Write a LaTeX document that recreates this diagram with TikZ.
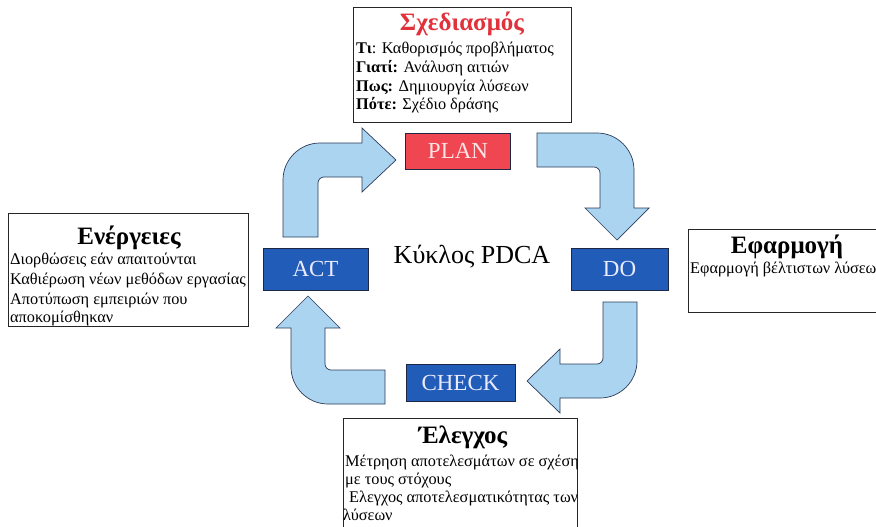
\documentclass[tikz,border=0pt]{standalone}
\usepackage{fontspec}
\setmainfont{Liberation Serif}
\definecolor{arrowfill}{RGB}{170,212,240}
\definecolor{arrowline}{RGB}{45,60,90}
\definecolor{stepblue}{RGB}{32,92,184}
\definecolor{stepred}{RGB}{240,70,82}
\definecolor{stepedge}{RGB}{30,40,70}
\definecolor{titlered}{RGB}{225,50,60}
\tikzset{
  stagebox/.style={draw=stepedge, line width=0.8pt, inner sep=0pt,
    font=\fontsize{23}{23}\selectfont},
  bluestage/.style={stagebox, fill=stepblue, text=white!92!blue},
  redstage/.style={stagebox, fill=stepred, text=white!90!red},
  frame/.style={draw=black!85, line width=1pt, inner sep=0pt, anchor=north west},
  bent/.style={fill=arrowfill, draw=arrowline, line width=0.7pt, line join=miter},
  txtline/.style={anchor=base west, inner sep=0pt, font=\fontsize{16.3}{16.3}\selectfont},
  heading/.style={anchor=base, inner sep=0pt, font=\fontsize{25}{25}\selectfont\bfseries},
}
\begin{document}
\begin{tikzpicture}[x=1pt,y=-1pt]
\fill[white] (0,0) rectangle (876,527);
\clip (0,0) rectangle (876,527);

% description frames
\node[frame, minimum width=218pt, minimum height=115pt] (planframe) at (353,7) {};
\node[frame, minimum width=240pt, minimum height=113pt] (actframe) at (8,213) {};
\node[frame, minimum width=200pt, minimum height=83pt] (doframe) at (688,229) {};
\node[frame, minimum width=234pt, minimum height=120pt] (checkframe) at (343,418) {};

% planning
\node[heading, text=titlered] (plantitle) at (462,31) {Σχεδιασμός};
\node[txtline] (plan1) at (356,54) {{\bfseries Τι}: Καθορισμός προβλήματος};
\node[txtline] (plan2) at (356,73) {{\bfseries Γιατί:} Ανάλυση αιτιών};
\node[txtline] (plan3) at (356,92) {{\bfseries Πως:} Δημιουργία λύσεων};
\node[txtline] (plan4) at (356,110) {{\bfseries Πότε:} Σχέδιο δράσης};

% actions
\node[heading] (acttitle) at (129,244) {Ενέργειες};
\node[txtline] (act1) at (10,264) {Διορθώσεις εάν απαιτούνται};
\node[txtline] (act2) at (10,284) {Καθιέρωση νέων μεθόδων εργασίας};
\node[txtline] (act3) at (10,304) {Αποτύπωση εμπειριών που};
\node[txtline] (act4) at (10,322) {αποκομίσθηκαν};

% implementation
\node[heading] (dotitle) at (787,253) {Εφαρμογή};
\node[txtline] (do1) at (690,273) {Εφαρμογή βέλτιστων λύσεων};

% checking
\node[heading] (checktitle) at (463,443) {Έλεγχος};
\node[txtline] (check1) at (345,466) {Μέτρηση αποτελεσμάτων σε σχέση};
\node[txtline] (check2) at (345,484) {με τους στόχους};
\node[txtline] (check3) at (349,502) {Ελεγχος αποτελεσματικότητας των};
\node[txtline] (check4) at (343,520) {λύσεων};

% cycle stages
\node[redstage, minimum width=105pt, minimum height=36pt] (plan) at (458,151) {PLAN};
\node[bluestage, minimum width=97pt, minimum height=42pt] (do) at (619.5,269) {DO};
\node[bluestage, minimum width=109pt, minimum height=37pt] (check) at (460.5,382.5) {CHECK};
\node[bluestage, minimum width=105pt, minimum height=42pt] (act) at (315.5,269) {ACT};

\node[anchor=base, inner sep=0pt, font=\fontsize{26}{26}\selectfont] (cycle) at (472,263) {Κύκλος PDCA};

% bent block arrows between the stages
\draw[bent] (283,237) -- (283,180) .. controls (283,159.6) and (299.6,143) .. (320,143)
  -- (362,143) -- (362,128) -- (396,160) -- (362,192) -- (362,177) -- (324,177)
  .. controls (320.7,177) and (318,179.7) .. (318,183) -- (318,237) -- cycle;
\draw[bent] (537,133) -- (597,133) .. controls (617.4,133) and (634,149.6) .. (634,170)
  -- (634,208) -- (649,208) -- (617,240) -- (585,208) -- (600,208) -- (600,173)
  .. controls (600,169.7) and (597.3,167) .. (594,167) -- (537,167) -- cycle;
\draw[bent] (603,302) -- (637,302) -- (637,361) .. controls (637,381.4) and (620.4,398) .. (600,398)
  -- (560,398) -- (560,413) -- (527,381) -- (560,349) -- (560,364) -- (597,364)
  .. controls (600.3,364) and (603,361.3) .. (603,358) -- cycle;
\draw[bent] (385,370) -- (331,370) .. controls (327.7,370) and (325,367.3) .. (325,364)
  -- (325,328) -- (340,328) -- (308,296) -- (276,328) -- (291,328) -- (291,367)
  .. controls (291,387.4) and (307.6,404) .. (328,404) -- (385,404) -- cycle;
\end{tikzpicture}
\end{document}
